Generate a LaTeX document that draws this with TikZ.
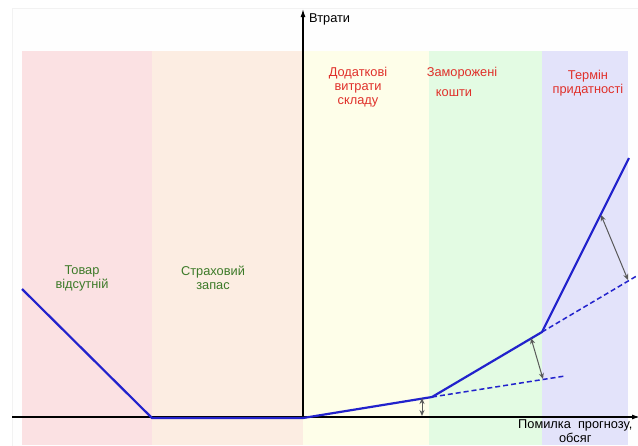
\documentclass[tikz,border=0pt]{standalone}
\usepackage{fontspec}
\setmainfont{Liberation Sans}
\usetikzlibrary{arrows.meta}
\definecolor{bpink}{HTML}{FBE1E3}
\definecolor{bpeach}{HTML}{FCEDE2}
\definecolor{byellow}{HTML}{FEFEE9}
\definecolor{bgreen}{HTML}{E3FBE3}
\definecolor{blav}{HTML}{E3E3FA}
\definecolor{lblred}{HTML}{E0302A}
\definecolor{lblgreen}{HTML}{3C7A28}
\definecolor{curveblue}{HTML}{2222CC}
\begin{document}
\begin{tikzpicture}[x=1pt,y=-1pt,
  lbl/.style={align=center,font=\fontsize{12.8}{14}\selectfont,inner sep=0pt},
  redlbl/.style={lbl,text=lblred},
  grnlbl/.style={lbl,text=lblgreen},
  axis/.style={line width=1.3pt,-{Latex[length=8pt,width=5pt]}},
  curve/.style={curveblue,line width=2.2pt,line join=round},
  dashcurve/.style={curveblue,line width=1.5pt,dashed,dash pattern=on 5pt off 3pt},
  gap/.style={black!65,line width=1pt,{Stealth[length=6pt,width=5pt]}-{Stealth[length=6pt,width=5pt]}}]
\useasboundingbox (0,0) rectangle (638,445);
\fill[white] (0,0) rectangle (638,445);
\draw[black!5,fill=black!0.5] (12,8) rectangle (640,447);
% bands
\fill[bpink] (22,51) rectangle (152,445);
\fill[bpeach] (152,51) rectangle (303,445);
\fill[byellow] (303,51) rectangle (429,445);
\fill[bgreen] (429,51) rectangle (542,445);
\fill[blav] (542,51) rectangle (628,445);
% band labels
\node[grnlbl] (l1) at (82,278) {Товар\\відсутній};
\node[grnlbl] (l2) at (213,278) {Страховий\\запас};
\node[redlbl] (l3) at (358,87) {Додаткові\\витрати\\складу};
\node[redlbl,anchor=center] (l4a) at (462,73) {Заморожені};
\node[redlbl] (l4b) at (454,93) {кошти};
\node[redlbl] (l5) at (588,83) {Термін\\придатності};
% axes
\coordinate (xs) at (12,417);
\coordinate (xe) at (640,417);
\coordinate (ys) at (303,417);
\coordinate (ye) at (303,9);
\draw[axis] (xs) -- (xe);
\draw[axis] (ys) -- (ye);
\node[lbl,anchor=west] (yl) at (309,19) {Втрати};
\node[lbl,anchor=north west] (xl) at (518,419) {Помилка\ \ прогнозу,\\обсяг};
% curve points
\coordinate (p0) at (22,289);
\coordinate (p1) at (152,418);
\coordinate (p2) at (303,418);
\coordinate (p3) at (432,397);
\coordinate (p4) at (542,332);
\coordinate (p5) at (629,158);
\coordinate (d1) at (565,376);
\coordinate (d2) at (640,274);
\draw[dashcurve] (p3) -- (d1);
\draw[dashcurve] (p4) -- (d2);
\draw[curve] (p0) -- (p1) -- (p2) -- (p3) -- (p4) -- (p5);
% gap arrows
\coordinate (g1a) at (422,398);
\coordinate (g1b) at (422,416);
\coordinate (g2a) at (531,338);
\coordinate (g2b) at (543,379);
\coordinate (g3a) at (601,215);
\coordinate (g3b) at (628,280);
\draw[gap] (g1a) -- (g1b);
\draw[gap] (g2a) -- (g2b);
\draw[gap] (g3a) -- (g3b);
\end{tikzpicture}
\end{document}
